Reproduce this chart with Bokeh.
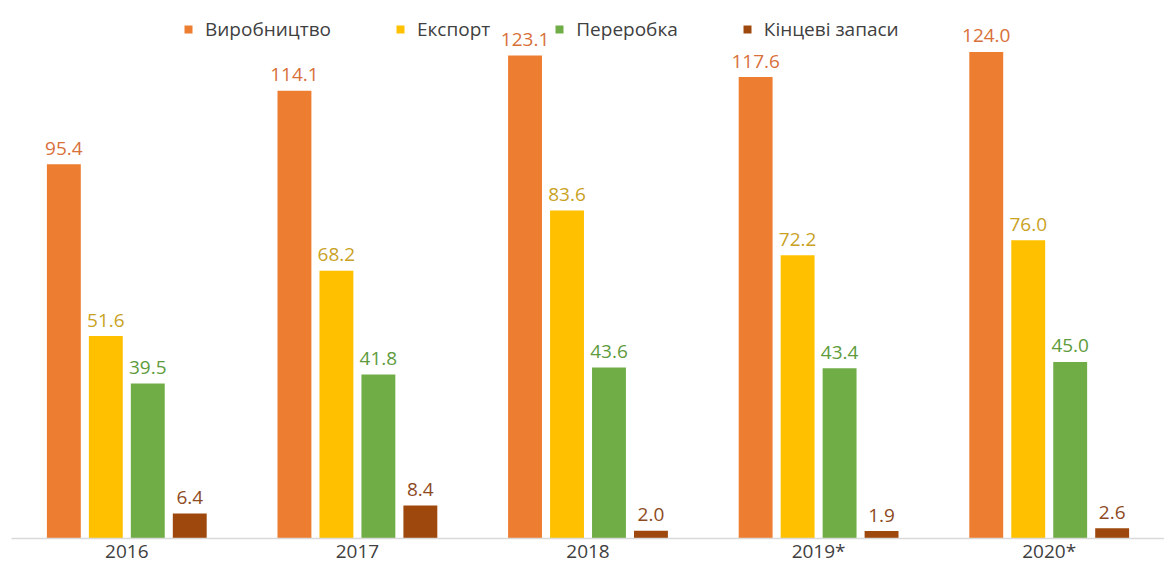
from bokeh.plotting import figure
from bokeh.models import ColumnDataSource, FactorRange, Range1d, Legend, LegendItem
from bokeh.transform import dodge
from bokeh.core.properties import value
from bokeh.embed import file_html
from bokeh.resources import INLINE

years = ["2016", "2017", "2018", "2019*", "2020*"]
series_names = ["Виробництво", "Експорт", "Переробка", "Кінцеві запаси"]
production = [95.4, 114.1, 123.1, 117.6, 124.0]
export = [51.6, 68.2, 83.6, 72.2, 76.0]
processing = [39.5, 41.8, 43.6, 43.4, 45.0]
end_stocks = [6.4, 8.4, 2.0, 1.9, 2.6]

bar_colors = ["#ED7D31", "#FFC000", "#70AD47", "#9E480E"]
label_colors = ["#D8703A", "#C9A21F", "#5E9B3C", "#8E4A1E"]
offsets = [-0.273, -0.091, 0.091, 0.273]
FONT = "Open Sans"

src = ColumnDataSource(dict(
    year=years,
    s0=production, s1=export, s2=processing, s3=end_stocks,
    t0=["%.1f" % v for v in production],
    t1=["%.1f" % v for v in export],
    t2=["%.1f" % v for v in processing],
    t3=["%.1f" % v for v in end_stocks],
))

p = figure(width=1164, height=566, x_range=FactorRange(*years, range_padding=0),
           y_range=Range1d(0, 137.1), output_backend="svg", toolbar_location=None,
           min_border_left=11, min_border_right=0, min_border_top=0, min_border_bottom=0)

renderers = []
for i in range(4):
    r = p.vbar(x=dodge("year", offsets[i], range=p.x_range), top="s%d" % i, width=0.147,
               source=src, fill_color=bar_colors[i], line_color=None)
    renderers.append(r)
    p.text(x=dodge("year", offsets[i], range=p.x_range), y="s%d" % i, text="t%d" % i,
           source=src, text_align="center", text_baseline="alphabetic", y_offset=-16,
           text_font=value(FONT), text_font_size="19px", text_color=label_colors[i])

legend = Legend(items=[LegendItem(label=series_names[i], renderers=[renderers[i]]) for i in range(4)],
                orientation="horizontal", location=(172, 496),
                glyph_width=10, glyph_height=10, label_standoff=12, spacing=64,
                padding=0, margin=0, border_line_color=None, background_fill_alpha=0,
                label_text_font=FONT, label_text_font_size="19px", label_text_color="#404040")
p.add_layout(legend, "center")

p.yaxis.visible = False
p.xgrid.visible = False
p.ygrid.visible = False
p.outline_line_color = None
p.xaxis.axis_line_color = "#D9D9D9"
p.xaxis.axis_line_width = 1.5
p.xaxis.major_tick_line_color = None
p.xaxis.minor_tick_line_color = None
p.xaxis.major_tick_out = 0
p.xaxis.major_tick_in = 0
p.xaxis.major_label_standoff = -1
p.xaxis.major_label_text_font = FONT
p.xaxis.major_label_text_font_size = "19px"
p.xaxis.major_label_text_color = "#404040"

open("out.html", "w").write(file_html(p, INLINE))
